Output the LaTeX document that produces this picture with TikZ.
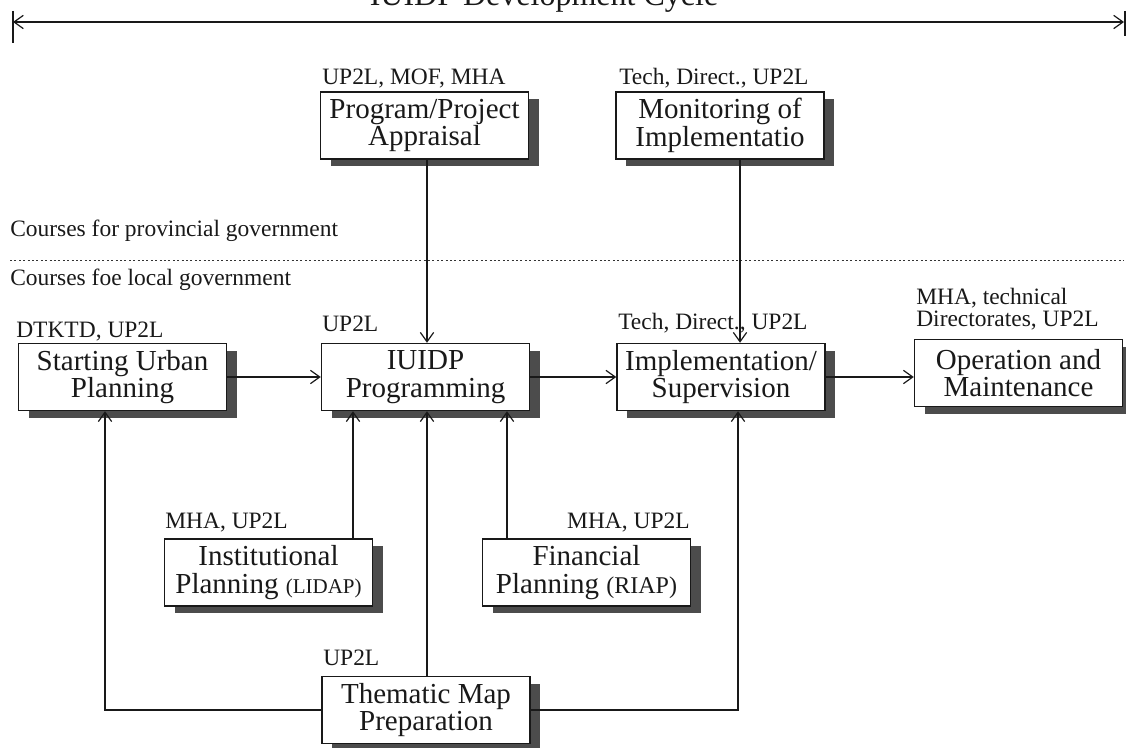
\documentclass[tikz,border=0pt]{standalone}
\usepackage{fontspec}
\setmainfont{Liberation Serif}
\usetikzlibrary{arrows.meta,shadows}
\begin{document}
\begin{tikzpicture}[x=0.75pt,y=-0.75pt,
  box/.style={draw=black!90, line width=1.1pt, fill=white,
    minimum width=156pt, minimum height=50.25pt, inner sep=0pt,
    align=center, text=black!90, font=\fontsize{21.75}{20.5}\selectfont,
    drop shadow={shadow xshift=7.5pt, shadow yshift=-5.25pt, fill=black!70, opacity=1}},
  lab/.style={anchor=base west, inner sep=0pt, text=black!90,
    font=\fontsize{17.6}{18}\selectfont},
  link/.style={draw=black!90, line width=0.9pt},
  tip/.tip={Straight Barb[length=7pt,width=10pt,line width=0.9pt]},
  flow/.style={link, -tip},
]
\useasboundingbox (0,0) rectangle (1126,748);

% title and the span of the whole cycle
\node[anchor=base, inner sep=0pt, text=black!90, font=\fontsize{24}{24}\selectfont]
  (title) at (544,6) {IUIDP Development Cycle};
\coordinate (cycL) at (13,22);
\coordinate (cycR) at (1124,22);
\draw[link, tip-tip] (cycL) -- (cycR);
\draw[link] (13,11) -- (13,43);
\draw[link] (1125,11) -- (1125,36);

% level divider
\node[lab] (prov) at (10,237) {Courses for provincial government};
\draw[black!80, line width=0.7pt, dash pattern=on 1.5pt off 1.8pt] (10,260) -- (1124,260);
\node[lab] (local) at (10,286) {Courses foe local government};

% activities
\node[box] (prog)  at (424.5,125.5) {Program/Project\\Appraisal};
\node[box] (mon)   at (720,125.5)   {Monitoring of\\Implementatio};
\node[box] (start) at (122.5,377)   {Starting Urban\\Planning};
\node[box] (prg)   at (425.5,377)   {IUIDP\\Programming};
\node[box] (impl)  at (721,377)     {Implementation/\\Supervision};
\node[box] (oper)  at (1018.5,373)  {Operation and\\Maintenance};
\node[box] (inst)  at (268.5,572.5) {Institutional\\Planning {\fontsize{15.75}{18}\selectfont(LIDAP)}};
\node[box] (fin)   at (586.5,572.5) {Financial\\Planning {\fontsize{18}{18}\selectfont(RIAP)}};
\node[box] (them)  at (426,710)     {Thematic Map\\Preparation};

% responsible agencies
\node[lab] (lprog)  at (322,85)  {UP2L, MOF, MHA};
\node[lab] (lmon)   at (619,85)  {Tech, Direct., UP2L};
\node[lab] (lstart) at (16,337)  {DTKTD, UP2L};
\node[lab] (lprg)   at (322,331) {UP2L};
\node[lab] (limpl)  at (618,329) {Tech, Direct., UP2L};
\node[lab] (loperA) at (916,304) {MHA, technical};
\node[lab] (loperB) at (916,326) {Directorates, UP2L};
\node[lab] (linst)  at (165,528) {MHA, UP2L};
\node[lab, anchor=base east] (lfin) at (690,528) {MHA, UP2L};
\node[lab] (lthem)  at (323,665) {UP2L};

% vertical connector positions
\coordinate (xa) at (427,0);
\coordinate (xm) at (740,0);
\coordinate (xi) at (353,0);
\coordinate (xf) at (507,0);
\coordinate (xs) at (105,0);
\coordinate (xt) at (738,0);

% main sequence
\draw[flow] (start.east) -- (start.east -| prg.west);
\draw[flow] (prg.east) -- (prg.east -| impl.west);
\draw[flow] (impl.east) -- (impl.east -| oper.west);

% inputs from above
\draw[flow] (prog.south -| xa) -- (prg.north -| xa);
\draw[flow] (mon.south -| xm) -- (impl.north -| xm);

% inputs from below
\draw[flow] (inst.north -| xi) -- (prg.south -| xi);
\draw[flow] (them.north -| xa) -- (prg.south -| xa);
\draw[flow] (fin.north -| xf) -- (prg.south -| xf);
\draw[flow] (them.west) -| (start.south -| xs);
\draw[flow] (them.east) -| (impl.south -| xt);
\end{tikzpicture}
\end{document}
